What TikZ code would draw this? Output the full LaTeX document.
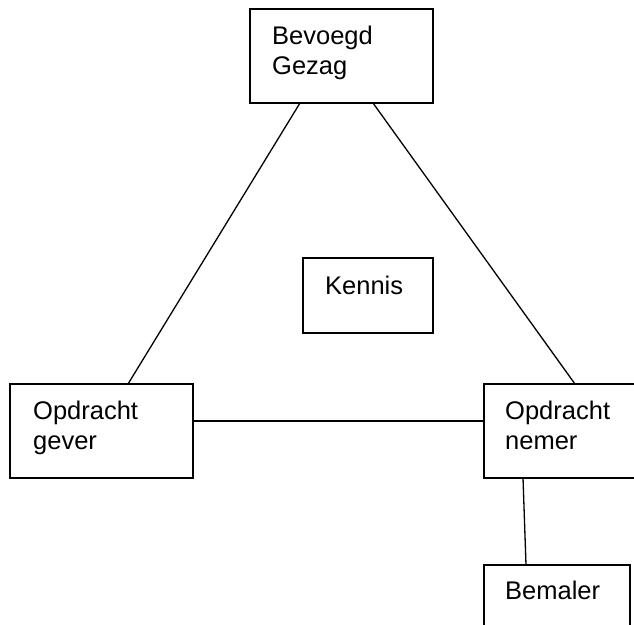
\documentclass[tikz,border=0pt]{standalone}
\usepackage{fontspec}
\setmainfont{Liberation Sans}
\begin{document}
\begin{tikzpicture}[x=1pt,y=-1pt,
  box/.style={draw=black,line width=2pt,rectangle,inner sep=0pt,outer sep=0pt},
  lbl/.style={anchor=base west,inner sep=0pt,align=left,font=\fontsize{25.5}{30}\selectfont},
  conn/.style={draw=black,line width=1.3pt}]
\useasboundingbox (0,0) rectangle (634,624);
\clip (0,0) rectangle (634,624);
% boxes
\node[box,minimum width=183pt,minimum height=94pt] (bg) at (341.5,56) {};
\node[box,minimum width=130pt,minimum height=75pt] (kn) at (368,295.5) {};
\node[box,minimum width=183pt,minimum height=94pt] (og) at (101.5,431) {};
\node[box,minimum width=160pt,minimum height=94pt] (on) at (564,431) {};
\node[box,minimum width=146pt,minimum height=90pt] (bm) at (557,610) {};
% texts (anchored at the baseline of the last line)
\node[lbl] (tbg) at (272,74.5) {Bevoegd\\Gezag};
\node[lbl] (tkn) at (325,294) {Kennis};
\node[lbl] (tog) at (33,449.5) {Opdracht\\gever};
\node[lbl] (ton) at (505,449.5) {Opdracht\\nemer};
\node[lbl] (tbm) at (505,599) {Bemaler};
% connectors
\draw[conn] ([xshift=50pt]bg.south west) -- ([xshift=118pt]og.north west);
\draw[conn] ([xshift=123pt]bg.south west) -- ([xshift=91pt]on.north west);
\draw[conn] ([yshift=10pt]og.east) -- ([yshift=10pt]on.west);
\draw[conn] ([xshift=39pt]on.south west) -- ([xshift=42pt]bm.north west);
\end{tikzpicture}
\end{document}
